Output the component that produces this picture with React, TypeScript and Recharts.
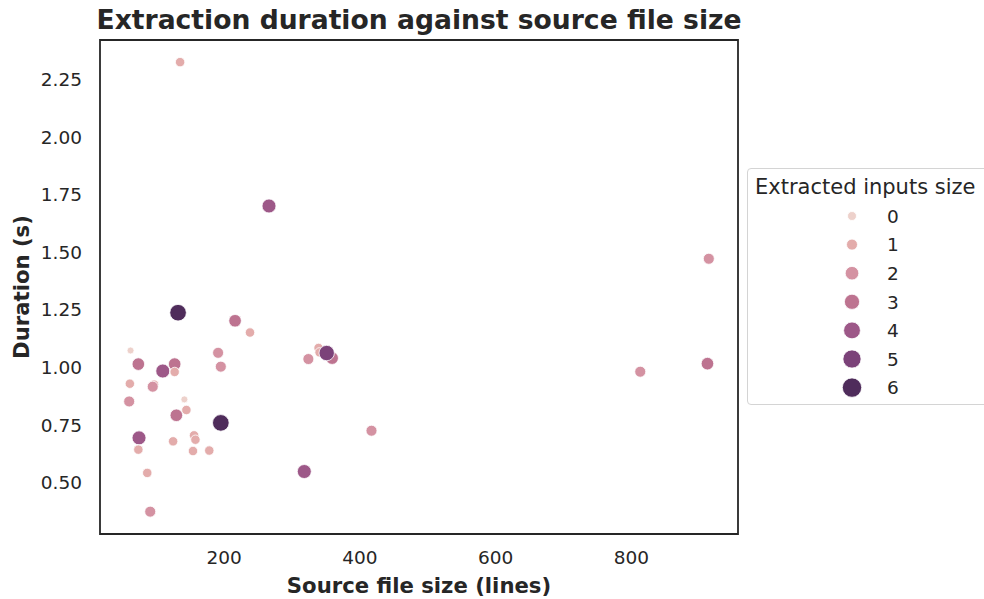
import React from 'react';
import { ScatterChart, Scatter, XAxis, YAxis, ReferenceArea, Legend } from 'recharts';

const sourceLines = [135, 266, 914, 132, 216, 238, 62, 191, 339, 340.5, 359, 351, 324, 73.5, 127, 109.5, 127, 195, 912, 813, 61, 96.6, 94.7, 60, 141.3, 144.3, 129.5, 195, 74.5, 124.7, 155.6, 157.6, 73.5, 154, 178, 417, 318, 86.6, 91];
const durations = [2.324, 1.7, 1.471, 1.237, 1.202, 1.151, 1.073, 1.063, 1.084, 1.065, 1.04, 1.062, 1.036, 1.014, 1.014, 0.984, 0.98, 1.003, 1.016, 0.981, 0.929, 0.925, 0.916, 0.852, 0.861, 0.815, 0.792, 0.759, 0.694, 0.679, 0.705, 0.686, 0.643, 0.637, 0.639, 0.725, 0.548, 0.542, 0.374];
const inputSizes = [1, 4, 2, 6, 3, 1, 0, 2, 1, 1, 3, 5, 2, 3, 3, 4, 1, 2, 3, 2, 1, 1, 2, 2, 0, 1, 3, 6, 4, 1, 1, 1, 1, 1, 1, 2, 4, 1, 2];

const legendLabels = ['0', '1', '2', '3', '4', '5', '6'];
const xTicks = [200, 400, 600, 800];
const yTicks = [0.5, 0.75, 1.0, 1.25, 1.5, 1.75, 2.0, 2.25];
const xDomain = [17, 957];
const yDomain = [0.277, 2.42];

const palette = ['#edd1cb', '#e3acab', '#d492a2', '#bd7390', '#9d5888', '#7b4279', '#4f2c5b'];
const radii = [3.5, 4.7, 5.5, 6.3, 7, 7.7, 8.3];
const legendRadii = [4.5, 5.5, 6.8, 7.6, 8.4, 9.1, 9.7];

const FONT = 'DejaVu Sans';
const INK = '#262626';

const points = sourceLines.map((x, i) => ({ x, y: durations[i], k: inputSizes[i] }));

const Dot = (props: any) => {
  const { cx, cy, payload } = props;
  if (cx == null || cy == null) return null;
  return <circle cx={cx} cy={cy} r={radii[payload.k]} fill={palette[payload.k]} stroke="#ffffff" strokeWidth={0.8} />;
};

const XTick = (p: any) => (
  <text x={p.x} y={p.y} dy={29.7} textAnchor="middle" fontSize={18.5} fontFamily={FONT} fill={INK}>
    {p.payload.value}
  </text>
);

const YTick = (p: any) => (
  <text x={p.x} y={p.y} dy={6.7} textAnchor="end" fontSize={18.5} fontFamily={FONT} fill={INK}>
    {Number(p.payload.value).toFixed(2)}
  </text>
);

const XLabel = (props: any) => {
  const vb = props.viewBox || { x: 100, y: 534, width: 638, height: 65 };
  return (
    <text x={vb.x + vb.width / 2} y={vb.y + 59} textAnchor="middle" fontSize={21.2} fontWeight="bold" fontFamily={FONT} fill={INK}>
      Source file size (lines)
    </text>
  );
};

const YLabel = (props: any) => {
  const vb = props.viewBox || { x: 0, y: 40, width: 100, height: 494 };
  const cx = vb.x + 29;
  const cy = vb.y + vb.height / 2;
  return (
    <text x={cx} y={cy} textAnchor="middle" transform={`rotate(-90 ${cx} ${cy})`} fontSize={21.2} fontWeight="bold" fontFamily={FONT} fill={INK}>
      Duration (s)
    </text>
  );
};

const LegendBox = () => (
  <div style={{ width: 262, height: 237, boxSizing: 'border-box', border: '1px solid #d4d4d4', borderRadius: 4, background: 'rgba(255,255,255,0.85)' }}>
    <svg width={260} height={235} style={{ display: 'block' }}>
      <text x={7} y={25} fontSize={21} fontFamily={FONT} fill={INK}>Extracted inputs size</text>
      {legendLabels.map((lab, i) => (
        <g key={lab}>
          <circle cx={104} cy={47 + i * 28.6} r={legendRadii[i]} fill={palette[i]} stroke="#ffffff" strokeWidth={0.8} />
          <text x={139} y={47 + i * 28.6 + 6.7} fontSize={18.5} fontFamily={FONT} fill={INK}>{lab}</text>
        </g>
      ))}
    </svg>
  </div>
);

export default function App() {
  return (
    <div style={{ position: 'absolute', left: 0, top: 0, width: 984, height: 599, overflow: 'hidden', background: '#fff' }}>
      <svg width={984} height={40} style={{ position: 'absolute', left: 0, top: 0, zIndex: 2, pointerEvents: 'none' }}>
        <text x={419} y={29} textAnchor="middle" fontSize={26.6} fontWeight="bold" fontFamily={FONT} fill={INK}>
          Extraction duration against source file size
        </text>
      </svg>
      <ScatterChart width={984} height={599} margin={{ top: 40, right: 246, bottom: 0, left: 0 }}>
        <XAxis
          type="number"
          dataKey="x"
          domain={xDomain}
          ticks={xTicks}
          allowDataOverflow
          axisLine={false}
          tickLine={false}
          tickSize={0}
          tickMargin={0}
          height={65}
          tick={<XTick />}
          label={<XLabel />}
        />
        <YAxis
          type="number"
          dataKey="y"
          domain={yDomain}
          ticks={yTicks}
          allowDataOverflow
          axisLine={false}
          tickLine={false}
          tickSize={0}
          tickMargin={18}
          width={100}
          tick={<YTick />}
          label={<YLabel />}
        />
        <ReferenceArea x1={xDomain[0]} x2={xDomain[1]} y1={yDomain[0]} y2={yDomain[1]} fill="none" stroke={INK} strokeWidth={1.8} ifOverflow="visible" />
        <Scatter data={points} shape={<Dot />} isAnimationActive={false} />
        <Legend
          layout="horizontal"
          align="center"
          verticalAlign="middle"
          content={() => <LegendBox />}
          wrapperStyle={{ position: 'absolute', left: 747, top: 168, right: 'auto', bottom: 'auto', width: 262, height: 237 }}
        />
      </ScatterChart>
    </div>
  );
}
